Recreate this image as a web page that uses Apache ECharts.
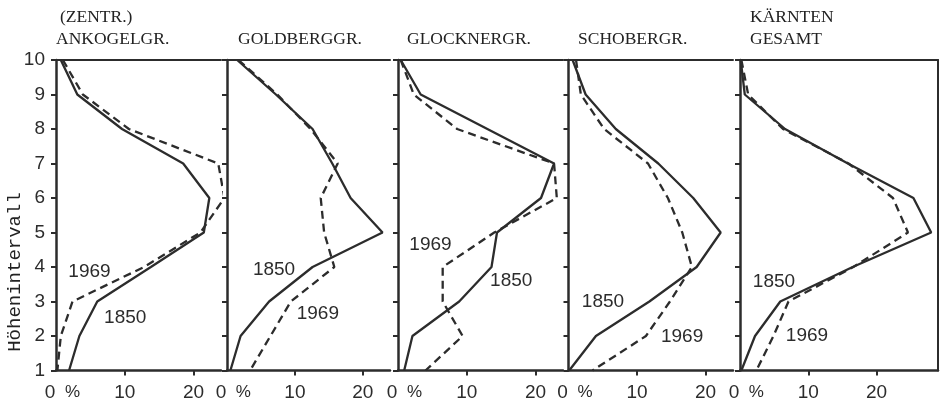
<!DOCTYPE html>
<html>
<head>
<meta charset="utf-8">
<script src="https://cdn.jsdelivr.net/npm/echarts@6/dist/echarts.min.js"></script>
<style>html,body{margin:0;padding:0;background:#fff}#c{width:945px;height:408px}</style>
</head>
<body>
<div id="c"></div>
<script>
// ---- data ----
const levels = [10, 9, 8, 7, 6, 5, 4, 3, 2, 1];
const xTickValues = [10, 20];
const xLabelValues = [0, 2.4, 10, 20];

const panelTitles = [
  ['(ZENTR.)', 'ANKOGELGR.'],
  ['', 'GOLDBERGGR.'],
  ['', 'GLOCKNERGR.'],
  ['', 'SCHOBERGR.'],
  ['KÄRNTEN', 'GESAMT']
];
const xMax = [24, 24, 24, 24, 29];

const ankogel1850 = [0.7, 3.1, 9.6, 18.5, 22.3, 21.5, 13.8, 6.0, 3.4, 1.9];
const ankogel1969 = [1.0, 3.9, 10.6, 23.6, 24.5, 21.0, 12.8, 2.4, 0.7, 0.2];
const goldberg1850 = [1.5, 7.2, 12.6, 15.5, 18.2, 22.9, 12.6, 6.2, 2.0, 0.5];
const goldberg1969 = [1.7, 7.4, 12.3, 16.3, 13.8, 14.3, 15.8, 9.4, 6.4, 3.4];
const glockner1850 = [0.4, 3.3, 13.0, 22.7, 20.8, 14.4, 13.6, 8.9, 2.1, 0.9];
const glockner1969 = [0.4, 2.3, 8.6, 22.7, 23.1, 14.0, 6.5, 6.5, 9.4, 4.0];
const schober1850 = [0.6, 2.5, 6.9, 13.1, 18.2, 22.2, 18.7, 11.8, 4.0, 0.1];
const schober1969 = [1.1, 1.8, 5.2, 11.6, 14.5, 16.6, 18.0, 14.8, 11.3, 3.5];
const karnten1850 = [0.1, 0.7, 6.6, 15.8, 25.4, 28.0, 16.5, 5.9, 2.2, 0.2];
const karnten1969 = [0.2, 1.2, 6.3, 15.9, 22.4, 24.6, 16.6, 7.1, 4.9, 2.4];

const series1850 = [ankogel1850, goldberg1850, glockner1850, schober1850, karnten1850];
const series1969 = [ankogel1969, goldberg1969, glockner1969, schober1969, karnten1969];

// year-label anchor points in data coordinates [x, y]
const label1850 = [[10.0, 2.53], [6.85, 3.92], [16.4, 3.6], [4.96, 2.99], [4.9, 3.57]];
const label1969 = [[4.8, 3.86], [13.3, 2.64], [4.65, 4.65], [16.5, 1.97], [9.74, 2.0]];

// ---- layout ----
const grids = [
  {left: 56, width: 165},
  {left: 227, width: 163},
  {left: 398, width: 165},
  {left: 568.5, width: 164.5},
  {left: 740, width: 198}
];
const INK = '#2c2c2c';
const NUMFONT = 'Liberation Sans';

const option = {
  backgroundColor: '#ffffff',
  animation: false,
  grid: grids.map(g => ({left: g.left, width: g.width, top: 60, bottom: 37.5})),
  xAxis: [],
  yAxis: [],
  series: [],
  graphic: []
};

grids.forEach((g, i) => {
  option.xAxis.push({
    gridIndex: i, type: 'value', min: 0, max: xMax[i], position: 'bottom',
    axisLine: {show: true, onZero: false, lineStyle: {color: INK, width: 2.5}},
    axisTick: {show: true, customValues: xTickValues, length: 5, lineStyle: {color: INK, width: 2}},
    axisLabel: {
      customValues: xLabelValues, margin: 13, color: INK, fontFamily: NUMFONT, fontSize: 19,
      formatter: v => v === 0 ? '{z|0}' : (v < 5 ? '{p|%}' : String(v)),
      rich: {
        z: {padding: [0, 12, 0, 0], fontFamily: NUMFONT, fontSize: 19, color: INK},
        p: {fontFamily: NUMFONT, fontSize: 17, color: INK}
      }
    },
    splitLine: {show: false}
  });
  option.xAxis.push({
    gridIndex: i, type: 'value', min: 0, max: xMax[i], position: 'top',
    axisLine: {show: true, onZero: false, lineStyle: {color: INK, width: 2}},
    axisTick: {show: false}, axisLabel: {show: false}, splitLine: {show: false}
  });
  option.yAxis.push({
    gridIndex: i, type: 'value', min: 1, max: 10, interval: 1, position: 'left',
    axisLine: {show: true, onZero: false, lineStyle: {color: INK, width: 2.5}},
    axisTick: {show: true, length: 5, lineStyle: {color: INK, width: 2}},
    axisLabel: {show: i === 0, margin: 11, color: INK, fontFamily: NUMFONT, fontSize: 19},
    splitLine: {show: false}
  });
  if (i === 4) {
    option.yAxis.push({
      gridIndex: i, type: 'value', min: 1, max: 10, position: 'right',
      axisLine: {show: true, onZero: false, lineStyle: {color: INK, width: 2}},
      axisTick: {show: false}, axisLabel: {show: false}, splitLine: {show: false}
    });
  }
});

grids.forEach((g, i) => {
  const xi = i * 2;
  option.series.push({
    type: 'line', name: '1850', xAxisIndex: xi, yAxisIndex: i, clip: false,
    symbol: 'none', lineStyle: {color: INK, width: 2.3, type: 'solid'},
    data: series1850[i].map((v, k) => [v, levels[k]])
  });
  option.series.push({
    type: 'line', name: '1969', xAxisIndex: xi, yAxisIndex: i, clip: false,
    symbol: 'none', lineStyle: {color: INK, width: 2.3, type: [8, 5]},
    data: series1969[i].map((v, k) => [v, levels[k]])
  });
  option.series.push({
    type: 'scatter', xAxisIndex: xi, yAxisIndex: i, symbolSize: 1,
    itemStyle: {color: 'rgba(0,0,0,0)'}, silent: true,
    label: {show: true, position: 'right', distance: 0, align: 'center',
            verticalAlign: 'middle', formatter: '{b}', color: INK,
            textBorderWidth: 0, opacity: 1,
            fontFamily: NUMFONT, fontSize: 19},
    data: [
      {name: '1850', value: label1850[i]},
      {name: '1969', value: label1969[i]}
    ]
  });
});

// panel titles
const titleX = [56, 238, 407, 578, 750];
panelTitles.forEach((t, i) => {
  const dx = i === 0 ? 4 : 0;
  if (t[0]) option.graphic.push({type: 'text', left: titleX[i] + dx, top: 8,
    style: {text: t[0], font: '17.5px "Liberation Serif"', fill: '#222'}});
  option.graphic.push({type: 'text', left: titleX[i], top: 30,
    style: {text: t[1], font: '17.5px "Liberation Serif"', fill: '#222'}});
});
// y axis name
option.graphic.push({type: 'text', x: 15, y: 272, rotation: Math.PI / 2,
  style: {text: 'Höhenintervall', font: '19px "Liberation Mono"', fill: '#222',
          textAlign: 'center', textVerticalAlign: 'middle'}});

const chart = echarts.init(document.getElementById('c'), null, {renderer: 'canvas'});
chart.setOption(option);
</script>
</body>
</html>
